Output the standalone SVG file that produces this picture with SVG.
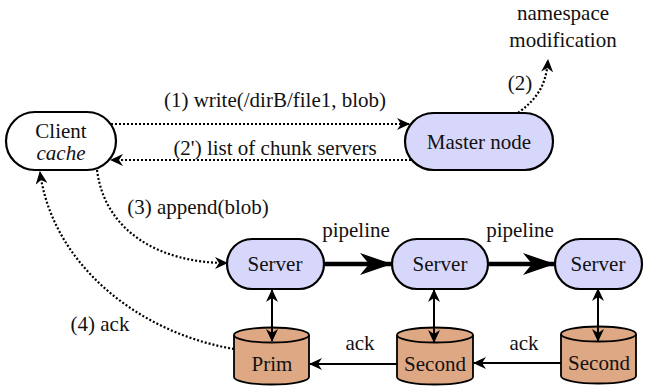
<svg xmlns="http://www.w3.org/2000/svg" width="647" height="386" viewBox="0 0 647 386">
<defs>
<style>
text{font-family:'Liberation Serif','Times New Roman','DejaVu Serif',serif;font-size:21px;fill:#111}
.node{fill:#d7d7fb;stroke:#000;stroke-width:2.2}
.plain{fill:#fff;stroke:#000;stroke-width:2.2}
.cyl{fill:#dfa884;stroke:#000;stroke-width:1.8}
.dot{fill:none;stroke:#000;stroke-width:2.2;stroke-dasharray:2 2}
.solid{fill:none;stroke:#000;stroke-width:2}
.pipe{fill:none;stroke:#000;stroke-width:4.5}
</style>
<marker id="ah" markerUnits="userSpaceOnUse" markerWidth="13" markerHeight="12" viewBox="0 0 13 12" refX="12" refY="6" orient="auto">
<path d="M0,0 L13,6 L0,12 L4,6 z" fill="#000"/>
</marker>
<marker id="big" markerUnits="userSpaceOnUse" markerWidth="32" markerHeight="22" viewBox="0 0 32 22" refX="31" refY="11" orient="auto">
<path d="M0,0 L32,11 L0,22 L9,11 z" fill="#000"/>
</marker>
</defs>

<g id="client">
<rect class="plain" x="6" y="112" width="110" height="58" rx="29"/>
<text x="61" y="138" text-anchor="middle" font-family="Liberation Serif, serif">Client</text>
<text x="61" y="160" text-anchor="middle" font-style="italic" font-family="Liberation Serif, serif">cache</text>
</g>

<g id="master">
<rect class="node" x="405" y="113" width="148" height="57" rx="28.5"/>
<text x="479" y="149" text-anchor="middle" font-family="Liberation Serif, serif">Master node</text>
</g>

<g id="server1">
<rect class="node" x="227" y="239" width="97" height="50" rx="25"/>
<text x="275" y="271" text-anchor="middle" font-family="Liberation Serif, serif">Server</text>
</g>
<g id="server2">
<rect class="node" x="392" y="239" width="96" height="50" rx="25"/>
<text x="440" y="271" text-anchor="middle" font-family="Liberation Serif, serif">Server</text>
</g>
<g id="server3">
<rect class="node" x="555" y="239" width="87" height="50" rx="25"/>
<text x="598" y="271" text-anchor="middle" font-family="Liberation Serif, serif">Server</text>
</g>

<g id="prim">
<path class="cyl" d="M234,335 L234,377 A37.5,7.5 0 0 0 309,377 L309,335"/>
<ellipse class="cyl" cx="271.5" cy="335" rx="37.5" ry="7.5"/>
<text x="272" y="371" text-anchor="middle" font-family="Liberation Serif, serif">Prim</text>
</g>
<g id="second2">
<path class="cyl" d="M397,335 L397,377 A38,7.5 0 0 0 473,377 L473,335"/>
<ellipse class="cyl" cx="435" cy="335" rx="38" ry="7.5"/>
<text x="435" y="371" text-anchor="middle" font-family="Liberation Serif, serif">Second</text>
</g>
<g id="second3">
<path class="cyl" d="M561,334 L561,376 A37.5,7.5 0 0 0 636,376 L636,334"/>
<ellipse class="cyl" cx="598.5" cy="334" rx="37.5" ry="7.5"/>
<text x="599" y="370" text-anchor="middle" font-family="Liberation Serif, serif">Second</text>
</g>

<g id="connectors">
<path class="dot" d="M111,124 L409,124" marker-end="url(#ah)"/>
<path class="dot" d="M411,160 L111,160" marker-end="url(#ah)"/>
<path class="dot" d="M518,113 C535,100 546,88 548,60" marker-end="url(#ah)"/>
<path class="dot" d="M97,170 C105,232 160,263 227,263" marker-end="url(#ah)"/>
<path class="dot" d="M234,349 C135,332 52,262 40,172" marker-end="url(#ah)"/>
<path class="pipe" d="M325,264 L391,264" marker-end="url(#big)"/>
<path class="pipe" d="M489,264 L554,264" marker-end="url(#big)"/>
<path class="solid" d="M272,315 L272,290" marker-end="url(#ah)"/>
<path class="solid" d="M272,315 L272,341" marker-end="url(#ah)"/>
<path class="solid" d="M434,315 L434,290" marker-end="url(#ah)"/>
<path class="solid" d="M434,315 L434,342" marker-end="url(#ah)"/>
<path class="solid" d="M598,314 L598,289" marker-end="url(#ah)"/>
<path class="solid" d="M598,314 L598,341" marker-end="url(#ah)"/>
<path class="solid" d="M397,364 L310,364" marker-end="url(#ah)"/>
<path class="solid" d="M561,363 L474,363" marker-end="url(#ah)"/>
<g font-family="Liberation Serif, serif">
<text x="275" y="107" text-anchor="middle">(1) write(/dirB/file1, blob)</text>
<text x="275" y="155" text-anchor="middle">(2') list of chunk servers</text>
<text x="520" y="90" text-anchor="middle">(2)</text>
<text x="563" y="20" text-anchor="middle">namespace</text>
<text x="563" y="47" text-anchor="middle">modification</text>
<text x="198" y="214" text-anchor="middle">(3) append(blob)</text>
<text x="100" y="331" text-anchor="middle">(4) ack</text>
<text x="356" y="237" text-anchor="middle">pipeline</text>
<text x="520" y="237" text-anchor="middle">pipeline</text>
<text x="360" y="350" text-anchor="middle">ack</text>
<text x="524" y="350" text-anchor="middle">ack</text>
</g>
</g>
</svg>
